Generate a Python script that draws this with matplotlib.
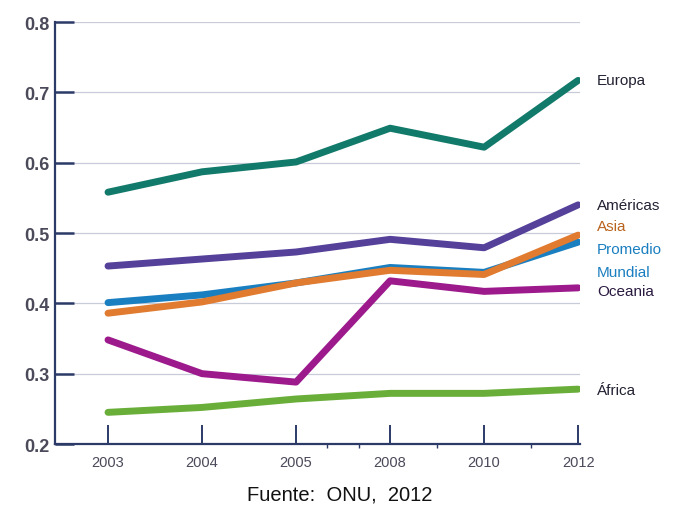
import numpy as np
import matplotlib.pyplot as plt

plt.rcParams['font.family'] = ['Liberation Sans', 'DejaVu Sans']

years = ['2003', '2004', '2005', '2008', '2010', '2012']
europa = [0.558, 0.587, 0.601, 0.649, 0.622, 0.717]
americas = [0.453, 0.463, 0.473, 0.491, 0.479, 0.540]
asia = [0.386, 0.402, 0.429, 0.447, 0.441, 0.497]
promedio = [0.401, 0.412, 0.429, 0.451, 0.444, 0.487]
oceania = [0.348, 0.300, 0.288, 0.432, 0.417, 0.422]
africa = [0.245, 0.252, 0.264, 0.272, 0.272, 0.278]

series = [
    (africa, '#6aae3a'),
    (oceania, '#9c1a8c'),
    (promedio, '#1a7fc0'),
    (asia, '#e07b30'),
    (americas, '#55409a'),
    (europa, '#127a6a'),
]

labels = [
    ('Europa', 0.717, '#222233'),
    ('Américas', 0.540, '#222233'),
    ('Asia', 0.510, '#b8631e'),
    ('Promedio', 0.477, '#1a7fc0'),
    ('Mundial', 0.444, '#1a7fc0'),
    ('Oceania', 0.418, '#2a1a40'),
    ('África', 0.277, '#222233'),
]

fig = plt.figure(figsize=(6.98, 5.10), dpi=100)
ax = fig.add_axes([55 / 698, 65 / 510, 525 / 698, 422 / 510])
x = np.arange(len(years))

for vals, c in series:
    ax.plot(x, vals, color=c, lw=5, solid_capstyle='round', solid_joinstyle='round')

ax.set_xlim(-0.564, 5.02)
ax.set_ylim(0.2, 0.8)
ax.set_yticks([0.2, 0.3, 0.4, 0.5, 0.6, 0.7, 0.8])
ax.set_yticklabels(['0.2', '0.3', '0.4', '0.5', '0.6', '0.7', '0.8'])
ax.set_xticks(x)
ax.set_xticklabels(years)
ax.set_xticks([2.5 - 0.17, 2.5 + 0.17, 3.5, 4.5], minor=True)
ax.grid(axis='y', color='#c8ccd8', lw=0.9)
ax.set_axisbelow(True)

spine_c = '#2b3a67'
for s in ['top', 'right']:
    ax.spines[s].set_visible(False)
for s in ['left', 'bottom']:
    ax.spines[s].set_color(spine_c)
    ax.spines[s].set_linewidth(1.6)

ax.tick_params(axis='y', direction='in', length=14, width=1.8, color=spine_c,
               labelsize=13, labelcolor='#4a4a5a', pad=4)
ax.tick_params(axis='x', direction='in', length=14, width=1.4, color=spine_c,
               labelsize=10.5, labelcolor='#4a4a5a', pad=8)
ax.tick_params(axis='x', which='minor', direction='out', length=3, width=1, color=spine_c)
for t in ax.get_yticklabels():
    t.set_fontweight('bold')

for name, yv, c in labels:
    ax.text(5.2, yv, name, color=c, fontsize=11, va='center', ha='left',
            clip_on=False)

fig.text(340 / 698, 15 / 510, 'Fuente:  ONU,  2012', ha='center', va='center',
         fontsize=14.5, color='#111111', fontstretch='condensed',
         family=['Liberation Sans Narrow', 'Liberation Sans', 'DejaVu Sans'])

fig.savefig('out.png', dpi=100)
